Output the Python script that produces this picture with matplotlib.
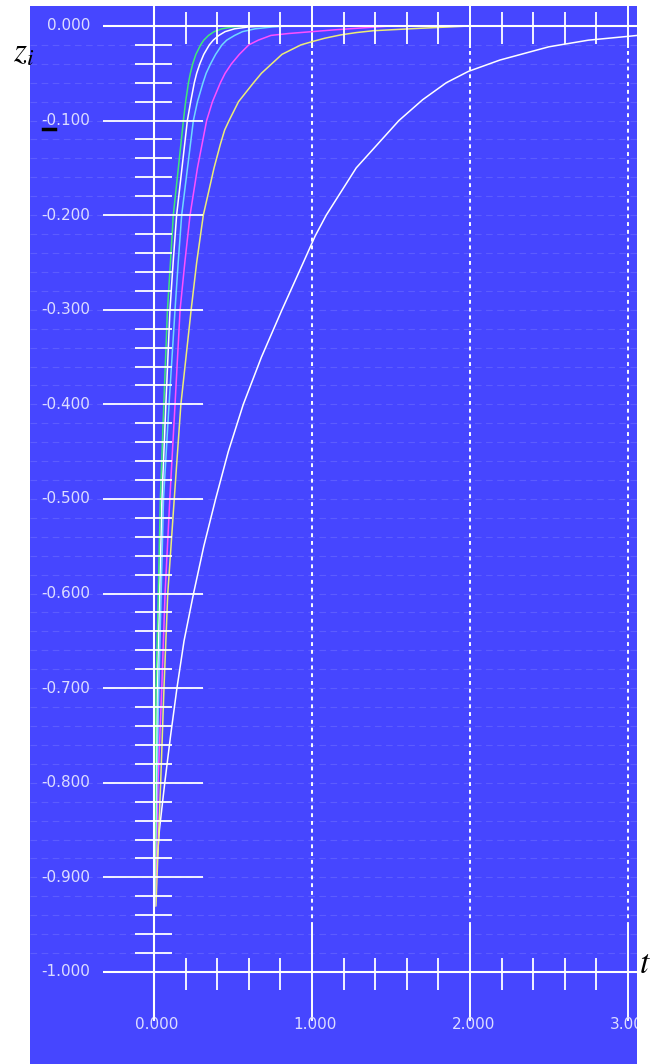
import matplotlib
matplotlib.use('Agg')

import matplotlib.pyplot as plt
from matplotlib.lines import Line2D

# traces (t, z_i)
t_green = [0.002, 0.008, 0.013, 0.027, 0.040, 0.062, 0.085, 0.104, 0.122, 0.154, 0.186, 0.200, 0.218, 0.230,
           0.245, 0.265, 0.295, 0.315, 0.345, 0.380, 0.430, 0.500, 0.600, 3.06]
z_green = [-0.93, -0.80, -0.70, -0.60, -0.50, -0.40, -0.30, -0.25, -0.20, -0.15, -0.10, -0.08, -0.06, -0.05,
           -0.04, -0.03, -0.02, -0.015, -0.01, -0.006, -0.003, -0.001, 0.0, 0.0]

t_white = [0.003, 0.012, 0.020, 0.035, 0.050, 0.075, 0.101, 0.121, 0.143, 0.177, 0.211, 0.232, 0.255, 0.270,
           0.290, 0.315, 0.350, 0.375, 0.410, 0.450, 0.510, 0.600, 0.700, 3.06]
z_white = [-0.93, -0.80, -0.70, -0.60, -0.50, -0.40, -0.30, -0.25, -0.20, -0.15, -0.10, -0.08, -0.06, -0.05,
           -0.04, -0.03, -0.02, -0.015, -0.01, -0.006, -0.003, -0.001, 0.0, 0.0]

t_cyan = [0.004, 0.018, 0.030, 0.045, 0.060, 0.095, 0.133, 0.153, 0.175, 0.212, 0.249, 0.275, 0.310, 0.330,
          0.358, 0.390, 0.430, 0.460, 0.510, 0.560, 0.640, 0.750, 0.850, 3.06]
z_cyan = [-0.93, -0.80, -0.70, -0.60, -0.50, -0.40, -0.30, -0.25, -0.20, -0.15, -0.10, -0.08, -0.06, -0.05,
          -0.04, -0.03, -0.02, -0.015, -0.01, -0.006, -0.003, -0.001, 0.0, 0.0]

t_magenta = [0.006, 0.025, 0.049, 0.070, 0.100, 0.133, 0.165, 0.195, 0.228, 0.275, 0.333, 0.370, 0.420, 0.450,
             0.490, 0.540, 0.600, 0.660, 0.740, 0.850, 1.000, 1.150, 1.500, 3.06]
z_magenta = [-0.93, -0.80, -0.70, -0.60, -0.50, -0.40, -0.30, -0.25, -0.20, -0.15, -0.10, -0.08, -0.06, -0.05,
             -0.04, -0.03, -0.02, -0.015, -0.01, -0.008, -0.006, -0.004, 0.0, 0.0]

t_yellow = [0.012, 0.042, 0.063, 0.087, 0.128, 0.170, 0.235, 0.270, 0.312, 0.380, 0.420, 0.447, 0.475, 0.505,
            0.535, 0.630, 0.680, 0.745, 0.810, 0.930, 1.000, 1.080, 1.180, 1.280, 1.390, 1.680, 2.000, 3.06]
z_yellow = [-0.93, -0.80, -0.70, -0.60, -0.50, -0.40, -0.30, -0.25, -0.20, -0.15, -0.125, -0.11, -0.10, -0.09,
            -0.08, -0.06, -0.05, -0.04, -0.03, -0.02, -0.0166, -0.013, -0.0095, -0.007, -0.005, -0.0025, 0.0, 0.0]

t_slow = [0.0, 0.012, 0.034, 0.068, 0.105, 0.145, 0.190, 0.250, 0.315, 0.390, 0.470, 0.565, 0.680, 0.810,
          0.945, 1.020, 1.090, 1.280, 1.550, 1.700, 1.850, 1.990, 2.190, 2.500, 2.750, 3.000, 3.06]
z_slow = [-0.93, -0.90, -0.85, -0.80, -0.75, -0.70, -0.65, -0.60, -0.55, -0.50, -0.45, -0.40, -0.35, -0.30,
          -0.25, -0.222, -0.20, -0.15, -0.10, -0.078, -0.06, -0.048, -0.036, -0.022, -0.015, -0.011, -0.010]

traces = [
    (t_slow, z_slow, 'white'),
    (t_yellow, z_yellow, '#ecec78'),
    (t_magenta, z_magenta, '#ff50ff'),
    (t_cyan, z_cyan, '#70d8ff'),
    (t_white, z_white, 'white'),
    (t_green, z_green, '#40e878'),
]

x_major = [1, 2, 3]
x_minor = [0.2, 0.4, 0.6, 0.8, 1.2, 1.4, 1.6, 1.8, 2.2, 2.4, 2.6, 2.8]
x_labels = ['0.000', '1.000', '2.000', '3.000']
x_label_pos = [0, 1, 2, 3]
y_major = [0, -0.1, -0.2, -0.3, -0.4, -0.5, -0.6, -0.7, -0.8, -0.9, -1.0]
y_labels = ['0.000', '-0.100', '-0.200', '-0.300', '-0.400', '-0.500',
            '-0.600', '-0.700', '-0.800', '-0.900', '-1.000']
y_minor = [-i * 0.02 for i in range(1, 50) if i % 5 != 0]
y_grid = [-i * 0.02 for i in range(1, 50)]

bg = '#4646ff'
fig = plt.figure(figsize=(6.55, 10.64), dpi=100)
ax = fig.add_axes([30 / 655, 0, 607 / 655, 1058 / 1064])
ax.set_facecolor(bg)
ax.set_xlim(-0.785, 3.057)
ax.set_ylim(-1.0973, 0.0211)
for s in ax.spines.values():
    s.set_visible(False)
ax.set_xticks([])
ax.set_yticks([])

# faint horizontal grid
ax.hlines(y_grid, -0.785, 3.06, colors='#5c5cff', lw=0.8,
          linestyles=(0, (6, 4)), zorder=1)
# dashed verticals
ax.vlines(x_major, -0.951, -0.023, colors='white', lw=1.4,
          linestyles=(0, (2, 2)), zorder=2)
ax.vlines(x_major, -0.023, 0.0211, colors='white', lw=1.4, zorder=2)
ax.vlines(x_major, -1.052, -0.951, colors='white', lw=1.4, zorder=2)

for t, z, c in traces:
    ax.plot(t, z, color=c, lw=1.1, zorder=3)

# axes lines and ticks
ax.vlines([0], -1.052, 0.0211, colors='white', lw=1.5, zorder=4)
ax.hlines([0, -1.0], -0.323, 3.06, colors='white', lw=1.5, zorder=4)
ax.hlines(y_major[1:-1], -0.323, 0.310, colors='white', lw=1.3, zorder=4)
ax.hlines(y_minor, -0.120, 0.114, colors='white', lw=1.3, zorder=4)
ax.vlines(x_minor, -0.0195, 0.0148, colors='white', lw=1.3, zorder=4)
ax.vlines(x_minor, -1.0195, -0.9852, colors='white', lw=1.3, zorder=4)

lab_col = '#dcdcff'
for v, s in zip(y_major, y_labels):
    ax.text(-0.405, v, s, ha='right', va='center', color=lab_col,
            fontsize=11, family='DejaVu Sans')
for v, s in zip(x_label_pos, x_labels):
    ax.text(v + 0.02, -1.056, s, ha='center', va='center', color=lab_col,
            fontsize=11, family='DejaVu Sans', clip_on=True)

plt.rcParams['mathtext.fontset'] = 'stix'
fig.text(13 / 655, 1 - 62 / 1064, r'$z_i$', fontsize=24, color='black',
         ha='left', va='baseline')
fig.text(639 / 655, 1 - 973 / 1064, r'$t$', fontsize=24, color='black',
         ha='left', va='baseline')
fig.add_artist(Line2D([43 / 655, 55 / 655], [1 - 129 / 1064] * 2,
                      color='black', lw=2.5))

fig.savefig('out.png', dpi=100, facecolor='white')
plt.close(fig)
